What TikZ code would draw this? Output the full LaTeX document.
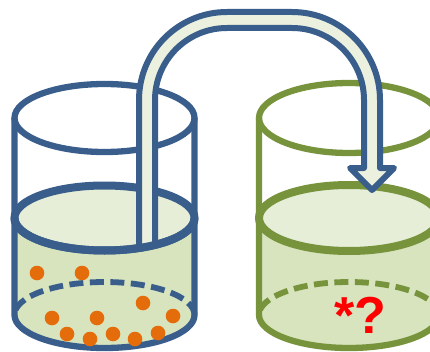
\documentclass[tikz,border=0pt]{standalone}
\usepackage{fontspec}
\setmainfont{Liberation Sans}
\begin{document}
\definecolor{glassblue}{HTML}{3A5E8C}
\definecolor{glassgreen}{HTML}{77933C}
\definecolor{liquid}{HTML}{D7E4BD}
\definecolor{surface}{HTML}{E6EED8}
\definecolor{tubefill}{HTML}{EBF1DE}
\definecolor{grain}{HTML}{E46C0A}
\begin{tikzpicture}[x=1pt,y=1pt,
  rim/.style={line width=6.3pt},
  level/.style={line width=8pt},
  floor/.style={line width=5.8pt, dash pattern=on 14pt off 6.5pt},
  particle/.style={fill=grain, draw=none},
  tubeline/.style={draw=glassblue, line width=6pt, line join=round},
  tubebody/.style={fill=tubefill},
  labeltext/.style={text=red, font=\bfseries\fontsize{52}{52}\selectfont, inner sep=0pt}
]
\useasboundingbox (0,0) rectangle (430,351);
\clip (0,0) rectangle (430,351);

% ---- beaker with particles (left) ----
\begin{scope}[glassblue]
  % liquid body
  \fill[liquid] (14.5,133) -- (14.5,36) arc[start angle=180,end angle=360,x radius=90,y radius=33] -- (194.5,133) -- cycle;
  % hidden back edge of the bottom
  \draw[floor] (194.5,36) arc[start angle=0,end angle=180,x radius=90,y radius=33];
  % liquid surface
  \draw[level, fill=surface] (104.5,133) ellipse[x radius=90, y radius=32.5];
  % rim
  \draw[rim] (104.5,233) ellipse[x radius=90, y radius=34];
  % walls and front bottom edge
  \draw[rim] (14.5,233) -- (14.5,36) arc[start angle=180,end angle=360,x radius=90,y radius=33] -- (194.5,233);
\end{scope}
% particles
\foreach \px/\py [count=\i] in {37/273, 82/273, 143/303, 52/318, 97/318, 173/316, 67/334, 90/339, 113/334, 135/339, 158/333}
  \fill[particle] (\px,351-\py) circle[radius=7.3];

% ---- receiving beaker (right) ----
\begin{scope}[glassgreen]
  \fill[liquid] (259,133) -- (259,36) arc[start angle=180,end angle=360,x radius=90,y radius=33] -- (439,133) -- cycle;
  \draw[floor] (439,36) arc[start angle=0,end angle=180,x radius=90,y radius=33];
  \draw[level, fill=surface] (349,133) ellipse[x radius=90, y radius=33];
  \draw[rim] (349,233) ellipse[x radius=90, y radius=35];
  \draw[rim] (259,233) -- (259,36) arc[start angle=180,end angle=360,x radius=90,y radius=33] -- (439,233);
\end{scope}
\node[labeltext, anchor=base] (result) at (360,18) {*?};

% ---- transfer tube with arrow head ----
\fill[tubebody] (139,102) -- (139,251) arc[start angle=180,end angle=90,radius=88]
  -- (292,339) arc[start angle=90,end angle=0,radius=88]
  -- (380,183) -- (394,183) -- (372,161) -- (350,183) -- (364,183)
  -- (364,251) arc[start angle=0,end angle=90,radius=72]
  -- (227,323) arc[start angle=90,end angle=180,radius=72]
  -- (155,105) -- cycle;
\draw[tubeline] (139,102) -- (139,251) arc[start angle=180,end angle=90,radius=88]
  -- (292,339) arc[start angle=90,end angle=0,radius=88]
  -- (380,183) -- (394,183) -- (372,161) -- (350,183) -- (364,183)
  -- (364,251) arc[start angle=0,end angle=90,radius=72]
  -- (227,323) arc[start angle=90,end angle=180,radius=72]
  -- (155,105);
% front edge of the left liquid surface passes in front of the tube
\draw[glassblue, level] (14.5,133) arc[start angle=180,end angle=360,x radius=90,y radius=32.5];
\end{tikzpicture}
\end{document}
